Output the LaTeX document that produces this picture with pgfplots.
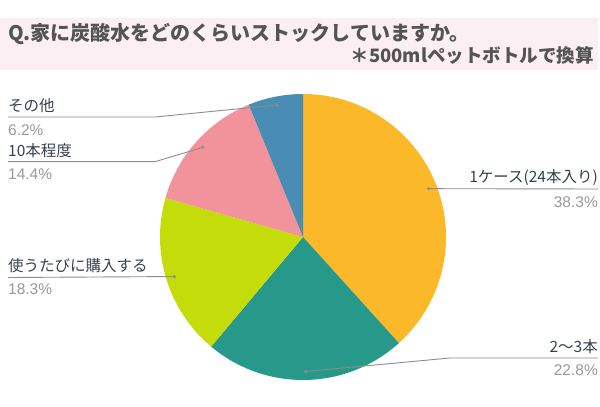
\documentclass[border=0pt]{standalone}
\usepackage{pgfplots}
\pgfplotsset{compat=1.18}
\usepackage{pgfplotstable}
\usepackage{fontspec}
\setmainfont{Noto Sans CJK JP}
\newfontfamily\lib{Liberation Sans}

\definecolor{cOrange}{HTML}{FBB829}
\definecolor{cTeal}{HTML}{26998A}
\definecolor{cLime}{HTML}{C5DC0B}
\definecolor{cPink}{HTML}{F2939B}
\definecolor{cBlue}{HTML}{4A8DB4}
\definecolor{band}{HTML}{FCEFF3}
\definecolor{labtxt}{HTML}{36404E}
\definecolor{pcttxt}{HTML}{999999}
\definecolor{leader}{HTML}{8C8C8C}

% share of answers, clockwise from the top
\pgfplotstableread[col sep=comma]{
value,color
38.3,cOrange
22.8,cTeal
18.3,cLime
14.4,cPink
6.2,cBlue
}\piedata

\begin{document}
\begin{tikzpicture}
\begin{axis}[
    x=1pt, y=1pt,
    xmin=0, xmax=600, ymin=0, ymax=407,
    hide axis, clip=false, disabledatascaling,
]
\path (axis cs:0,0) rectangle (axis cs:600,407);

% title band
\fill[band] (axis cs:0,389) rectangle (axis cs:598,337);
\node[anchor=west, inner sep=0, text=black!67, font=\bfseries\fontsize{20}{20}\selectfont]
    at (axis cs:8,373) {Q.家に炭酸水をどのくらいストックしていますか。};
\node[anchor=east, inner sep=0, text=black!67, font=\bfseries\fontsize{18.5}{18.5}\selectfont]
    at (axis cs:594,352) {＊500mlペットボトルで換算};

% pie slices, plus a dot inside each one for its leader line
\def\cum{0}
\pgfplotsforeachungrouped \i in {0,...,4}{
    \pgfplotstablegetelem{\i}{value}\of\piedata \let\slv\pgfplotsretval
    \pgfplotstablegetelem{\i}{color}\of\piedata \let\slcol\pgfplotsretval
    \pgfmathsetmacro\sa{90-3.6*\cum}
    \pgfmathsetmacro\ea{90-3.6*(\cum+\slv)}
    \pgfmathsetmacro\ma{(\sa+\ea)/2}
    \edef\tmp{%
        \noexpand\fill[\slcol] (axis cs:303,170) -- ++(\sa:143pt)
            arc[start angle=\sa, end angle=\ea, radius=143pt] -- cycle;
        \noexpand\path (axis cs:303,170) ++(\ma:134.5pt) coordinate (d\i);
    }\tmp
    \pgfmathsetmacro\cum{\cum+\slv}
}

% leader lines
\draw[leader, line width=0.9pt] (d0) -- (axis cs:598,218);
\draw[leader, line width=0.9pt] (d1) -- (axis cs:450,49) -- (axis cs:598,49);
\draw[leader, line width=0.9pt] (d2) -- (axis cs:8,129.5);
\draw[leader, line width=0.9pt] (d3) -- (axis cs:155,245.3) -- (axis cs:8,245.3);
\draw[leader, line width=0.9pt] (d4) -- (axis cs:155,290) -- (axis cs:8,290);
\fill[leader] (d0) circle[radius=1.8pt];
\fill[leader] (d1) circle[radius=1.8pt];
\fill[leader] (d2) circle[radius=1.8pt];
\fill[leader] (d3) circle[radius=1.8pt];
\fill[leader] (d4) circle[radius=1.8pt];

% labels
\tikzset{lab/.style={inner sep=0, text=labtxt, font=\fontsize{15.5}{15.5}\selectfont},
         pct/.style={inner sep=0, text=pcttxt, font=\lib\fontsize{15.5}{15.5}\selectfont}}
\node[lab, anchor=east] at (axis cs:598,229) {1ケース(24本入り)};
\node[pct, anchor=east] at (axis cs:598,205) {38.3\%};
\node[lab, anchor=east] at (axis cs:598,60) {2〜3本};
\node[pct, anchor=east] at (axis cs:598,37) {22.8\%};
\node[lab, anchor=west] at (axis cs:8,141) {使うたびに購入する};
\node[pct, anchor=west] at (axis cs:8,118) {18.3\%};
\node[lab, anchor=west] at (axis cs:8,256) {10本程度};
\node[pct, anchor=west] at (axis cs:8,233) {14.4\%};
\node[lab, anchor=west] at (axis cs:8,301) {その他};
\node[pct, anchor=west] at (axis cs:8,277) {6.2\%};
\end{axis}
\end{tikzpicture}
\end{document}
